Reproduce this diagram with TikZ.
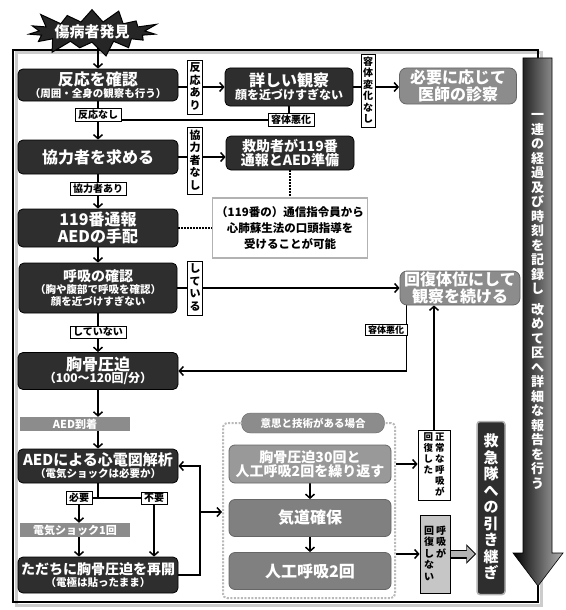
\documentclass[tikz,border=0pt]{standalone}
\usepackage{fontspec}
\setmainfont{Noto Sans CJK JP}
\usetikzlibrary{arrows.meta,shapes.symbols,backgrounds}

\def\vtxtend{}
\def\vtxtloop#1{\ifx#1\vtxtend\else\hbox to 1em{\hss\vrule height .88em depth .12em width 0pt\relax#1\hss}\kern1.5pt\expandafter\vtxtloop\fi}
\newcommand\vtxt[1]{\vtop{\offinterlineskip\vtxtloop#1\vtxtend}}
\newcommand\fA{\fontsize{16}{18}\selectfont}
\newcommand\fB{\fontsize{14}{16}\selectfont}
\newcommand\fC{\fontsize{10.5}{12}\selectfont}

\begin{document}
\begin{tikzpicture}[x=1pt,y=-1pt,
  every node/.style={inner sep=0pt, align=center},
  dbox/.style={draw=black, line width=0.8pt, fill=black!82, text=white, rounded corners=5pt, font=\bfseries},
  gbox/.style={draw=black!60, line width=0.8pt, fill=black!45, text=white, rounded corners=7pt, font=\bfseries},
  gbar/.style={fill=black!45, text=white, font=\bfseries\fontsize{11}{13}\selectfont, minimum width=110pt, minimum height=14pt},
  lab/.style={draw=black, line width=0.6pt, fill=white, font=\bfseries\fontsize{10}{11}\selectfont, inner xsep=3pt, inner ysep=1.5pt},
  vlab/.style={draw=black, line width=0.6pt, fill=white, font=\bfseries\fontsize{11}{12}\selectfont, inner sep=2pt},
  arr/.style={line width=1.5pt, -{Straight Barb[length=4pt,width=9pt]}},
  ln/.style={line width=1.5pt},
  dots/.style={line width=1.5pt, dash pattern=on 1.5pt off 1.5pt},
  burst/.style={starburst, starburst points=15, starburst point height=17pt, fill=black!85, draw=black, line width=1pt, text=white, font=\bfseries\fontsize{15}{17}\selectfont, minimum width=120pt, minimum height=32pt},
]
\path[use as bounding box] (0,0) rectangle (565,610);

% ---- main column ----
\node[burst] (start) at (92,32) {傷病者発見};
\node[dbox, minimum width=160pt, minimum height=32pt] (hannou) at (98,85) {{\fA 反応を確認}\\{\fC （周囲・全身の観察も行う）}};
\node[vlab] (lhari) at (195,87) {\vtxt{反応あり}};
\node[dbox, minimum width=128pt, minimum height=38pt] (shousai) at (289,87) {{\fA 詳しい観察}\\{\fontsize{12}{14}\selectfont 顔を近づけすぎない}};
\node[vlab, font=\bfseries\fontsize{10}{11}\selectfont] (lhenka) at (368,91) {\vtxt{容体変化なし}};
\node[gbox, minimum width=117pt, minimum height=36pt] (ishi) at (458,86) {{\fA 必要に応じて}\\{\fA 医師の診察}};
\node[lab] (lhnashi) at (98,115) {反応なし};
\node[lab] (lakka1) at (291,120) {容体悪化};

\node[dbox, minimum width=160pt, minimum height=34pt] (kyoryoku) at (98,157) {{\fA 協力者を求める}};
\node[vlab] (lknashi) at (195,161) {\vtxt{協力者なし}};
\node[dbox, minimum width=128pt, minimum height=34pt] (kyujo) at (290,153) {{\fB 救助者が119番}\\{\fB 通報とAED準備}};
\node[lab] (lkari) at (98,189) {協力者あり};

\node[dbox, minimum width=160pt, minimum height=38pt] (tsuho) at (98,228) {{\fA 119番通報}\\{\fA AEDの手配}};
\node[draw=gray!60, line width=1.5pt, fill=white, font=\bfseries\fontsize{11.5}{16}\selectfont, minimum width=155pt, minimum height=60pt] (note) at (290,228) {（119番の）通信指令員から\\心肺蘇生法の口頭指導を\\受けることが可能};

\node[dbox, minimum width=158pt, minimum height=50pt] (kokyu) at (98,288) {{\fB 呼吸の確認}\\{\fC （胸や腹部で呼吸を確認）}\\{\fC 顔を近づけすぎない}};
\node[vlab] (lshite) at (195,288) {\vtxt{している}};
\node[gbox, minimum width=120pt, minimum height=34pt] (kaifuku) at (460,288) {{\fA 回復体位にして}\\{\fA 観察を続ける}};
\node[lab] (lshitenai) at (98,332) {していない};
\node[lab, font=\bfseries\fontsize{9}{10}\selectfont] (lakka2) at (386,330) {容体悪化};

\node[dbox, minimum width=160pt, minimum height=37pt] (kyokotsu) at (98,371) {{\fA 胸骨圧迫}\\{\fontsize{12}{14}\selectfont （100～120回/分）}};
\node[gbar] (aed) at (75,424) {AED到着};
\node[dbox, minimum width=160pt, minimum height=34pt] (kaiseki) at (98,466) {{\fontsize{15}{17}\selectfont AEDによる心電図解析}\\{\fC （電気ショックは必要か）}};
\node[lab] (lhitsuyo) at (79,498) {必要};
\node[lab] (lfuyo) at (154,498) {不要};
\node[gbar] (shock) at (75,530) {電気ショック1回};
\node[dbox, minimum width=160pt, minimum height=36pt] (saikai) at (98,575) {{\fontsize{14}{16}\selectfont ただちに胸骨圧迫を再開}\\{\fC （電極は貼ったまま）}};

% ---- group ----
\node[draw=gray!55, dash pattern=on 2pt off 1.5pt, line width=2pt, rounded corners=4pt, minimum width=172pt, minimum height=175pt] (grp) at (309,510.5) {};
\node[fill=black!45, draw=black!60, rounded corners=9pt, text=white, font=\bfseries\fontsize{10.5}{12}\selectfont, minimum width=143pt, minimum height=20pt] (tab) at (313,423) {意思と技術がある場合};
\node[gbox, fill=black!40, rounded corners=6pt, minimum width=162pt, minimum height=38pt] (cpr) at (310,464) {{\fB 胸骨圧迫30回と}\\{\fB 人工呼吸2回を繰り返す}};
\node[gbox, fill=black!50, rounded corners=6pt, minimum width=162pt, minimum height=37pt] (kido) at (310,518) {{\fA 気道確保}};
\node[gbox, fill=black!50, rounded corners=6pt, minimum width=162pt, minimum height=37pt] (jinko) at (310,571) {{\fA 人工呼吸2回}};

\node[draw=black, line width=0.8pt, fill=white, font=\bfseries\fontsize{9.5}{10}\selectfont, minimum width=32pt, minimum height=70pt] (lkaifuku) at (434,465) {\vtxt{回復した}\kern2pt\vtxt{正常な呼吸が}};
\node[draw=black, line width=0.8pt, fill=gray!45, font=\bfseries\fontsize{10}{11}\selectfont, minimum width=30pt, minimum height=78pt] (lmikai) at (435,554) {\vtxt{回復しない}\kern2pt\vtxt{呼吸が}};

% ---- big arrow ----
\shade[left color=black, right color=gray!60, draw=black, line width=0.6pt]
  (523,58) -- (552,58) -- (552,553) -- (563,553) -- (538,586) -- (513,553) -- (523,553) -- cycle;
\node[text=white, font=\bfseries\fontsize{13}{14}\selectfont] (report) at (537.5,300) {\vtop{\offinterlineskip\hbox{\vtxt{一連の経過及び時刻を記録し}}\kern6pt\hbox{\vtxt{改めて区へ詳細な報告を行う}}}};
\node[dbox, draw=gray!60, line width=1.5pt, rounded corners=3pt, minimum width=28pt, minimum height=173pt, font=\bfseries\fontsize{15}{16}\selectfont] (kyukyu) at (491,508) {\vtxt{救急隊への引き継ぎ}};

% ---- background: frame and connectors ----
\begin{scope}[on background layer]
\fill[white] (0,0) rectangle (565,610);
\draw[gray!40, line width=3pt] (16,53) rectangle (541,605);
\draw[line width=1.6pt] (13,50) rectangle (538,602);

\draw[arr] (start.center -| hannou.north) -- (hannou.north);
\draw[arr] (hannou.east |- shousai.west) -- (shousai.west);
\draw[arr] (shousai.east) -- (shousai.east -| ishi.west);
\draw[arr] (hannou.south) -- (kyoryoku.north);
\coordinate (j1) at (98,120);
\draw[ln] (shousai.south) |- (j1);
\draw[arr] (kyoryoku.east) -- (kyoryoku.east -| kyujo.west);
\draw[arr] (kyoryoku.south) -- (tsuho.north);
\draw[dots] (kyujo.south) -- (kyujo.south |- note.north);
\draw[dots] (tsuho.east) -- (tsuho.east -| note.west);
\draw[arr] (tsuho.south) -- (kokyu.north);
\draw[arr] (kokyu.east) -- (kokyu.east -| kaifuku.west);
\draw[arr] (kokyu.south) -- (kyokotsu.north);
\draw[arr] ([xshift=7pt]kaifuku.south west) |- (kyokotsu.east);
\draw[arr] (kyokotsu.south) -- (kyokotsu.south |- aed.north);
\draw[arr] (aed.south -| kaiseki.north) -- (kaiseki.north);
\draw[arr] (kaiseki.south) |- (lhitsuyo.center) -- (lhitsuyo.center |- shock.north);
\draw[arr] (kaiseki.south) |- (lfuyo.center) -- (lfuyo.center |- saikai.north);
\draw[arr] (shock.south -| lhitsuyo.center) -- (saikai.north -| lhitsuyo.center);
\coordinate (lp) at (200,512);
\draw[arr] (saikai.east) -| (lp) |- (kaiseki.east);
\draw[arr] (lp) -- (lp -| grp.west);
\draw[arr] (cpr.south) -- (kido.north);
\draw[arr] (kido.south) -- (jinko.north);
\draw[arr] (grp.east |- cpr.east) -- (lkaifuku.west |- cpr.east);
\draw[arr] (lkaifuku.north) -- (lkaifuku.north |- kaifuku.south);
\draw[arr] (grp.east |- lmikai.west) -- (lmikai.west);
\draw[black, line width=9pt, -{Triangle[length=10pt,width=19pt]}] (lmikai.east) -- (lmikai.east -| kyukyu.west);
\draw[gray!60, line width=6.5pt, -{Triangle[length=8pt,width=15pt]}] (lmikai.east) -- ([xshift=-1.5pt]lmikai.east -| kyukyu.west);
\end{scope}
\end{tikzpicture}
\end{document}
